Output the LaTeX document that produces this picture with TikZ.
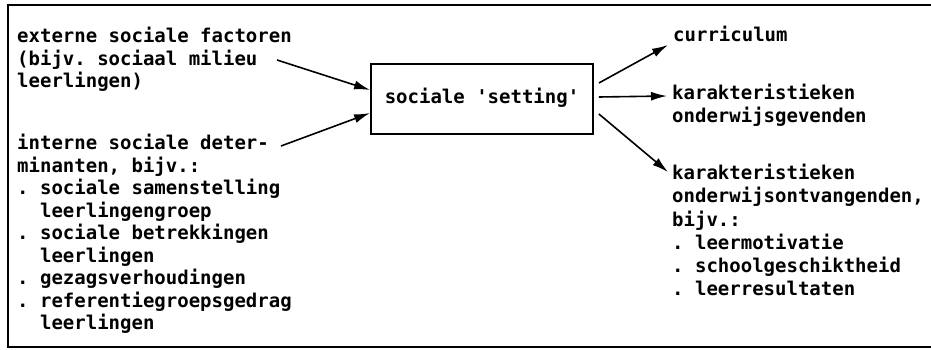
\documentclass[tikz,border=0pt]{standalone}
\usepackage{fontspec}
\setmonofont{DejaVu Sans Mono}
\usetikzlibrary{arrows.meta}

\begin{document}
\begin{tikzpicture}[x=1pt, y=-1pt,
	every node/.style={inner sep=0pt, align=left, anchor=north west,
		font=\ttfamily\bfseries\fontsize{19}{22.5}\selectfont,
		execute at begin node=\strut},
	pijl/.style={line width=1.6pt, -{Latex[length=16pt,width=9pt]}}]
	\useasboundingbox (0,0) rectangle (931,350);
	% kader, rechts open
	\draw[line width=1.8pt] (931,5) -- (8,5) -- (8,347) -- (931,347);

	% links (top = basislijn - 15.75)
	\node (extern) at (17,27) {externe sociale factoren\\(bijv. sociaal milieu\\leerlingen)};
	\node (intern) at (17,134) {interne sociale deter-\\minanten, bijv.:\\
		. sociale samenstelling\\\phantom{. }leerlingengroep\\
		. sociale betrekkingen\\\phantom{. }leerlingen\\
		. gezagsverhoudingen\\
		. referentiegroepsgedrag\\\phantom{. }leerlingen};

	% midden
	\node[draw, line width=1.8pt, anchor=center, minimum width=222pt, minimum height=70pt]
		(setting) at (482,99) {sociale 'setting'};

	% rechts
	\node (curr) at (673,26) {curriculum};
	\node (geven) at (672,84) {karakteristieken\\onderwijsgevenden};
	\node[font=\ttfamily\bfseries\fontsize{19}{23.2}\selectfont] (ontv) at (672,164)
		{karakteristieken\\onderwijsontvangenden,\\bijv.:\\
		. leermotivatie\\. schoolgeschiktheid\\. leerresultaten};

	\coordinate (extern-uit) at (277,60);
	\coordinate (intern-uit) at (281,146);
	\coordinate (curr-in) at (668,45);
	\coordinate (geven-in) at (667,96);
	\coordinate (ontv-in) at (668,172);

	\draw[pijl] (extern-uit) -- ([yshift=9pt]setting.west);
	\draw[pijl] (intern-uit) -- ([yshift=-14pt]setting.west);
	\draw[pijl] ([xshift=5pt,yshift=16pt]setting.east) -- (curr-in);
	\draw[pijl] ([xshift=5pt,yshift=2pt]setting.east) -- (geven-in);
	\draw[pijl] ([xshift=5pt,yshift=-15pt]setting.east) -- (ontv-in);
\end{tikzpicture}
\end{document}
